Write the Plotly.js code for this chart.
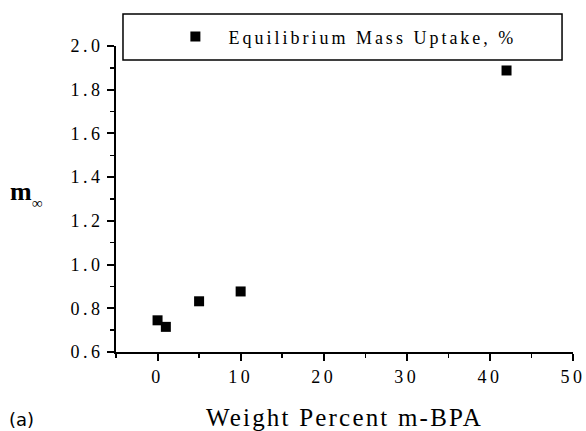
<!DOCTYPE html>
<html><head><meta charset="utf-8">
<script src="https://cdn.plot.ly/plotly-3.0.1.min.js"></script>
<style>
html,body{margin:0;padding:0;background:#fff}
.xtick text, .ytick text {letter-spacing: 3.5px;}
.legendtext {letter-spacing: 3px;}
.xtitle {letter-spacing: 2.2px;}
</style>
</head><body>
<div id="chart" style="width:586px;height:431px"></div>
<script>
const weightPercent = [0, 1, 5, 10, 42];
const massUptake = [0.745, 0.715, 0.832, 0.877, 1.888];
const seriesName = "Equilibrium Mass Uptake, %";
const xTickVals = [0, 10, 20, 30, 40, 50];
const yTickVals = [0.6, 0.8, 1.0, 1.2, 1.4, 1.6, 1.8, 2.0];
const yTickText = ["0.6", "0.8", "1.0", "1.2", "1.4", "1.6", "1.8", "2.0"];

const serif = "'Liberation Serif', serif";
const trace = {
  x: weightPercent, y: massUptake, mode: "markers", type: "scatter", name: seriesName,
  marker: {symbol: "square", size: 10, color: "#000"}
};
const layout = {
  width: 586, height: 431,
  margin: {l: 116, r: 13, t: 46, b: 79},
  paper_bgcolor: "#fff", plot_bgcolor: "#fff",
  showlegend: true,
  legend: {x: 0.1015, y: 1.03, xanchor: "left", yanchor: "middle", bgcolor: "rgba(0,0,0,0)",
           borderwidth: 0, itemwidth: 56, entrywidth: 370, entrywidthmode: "pixels",
           font: {family: serif, size: 18, color: "#000"}},
  xaxis: {
    range: [-5, 50], tickvals: xTickVals, showgrid: false, zeroline: false,
    showline: true, linecolor: "#000", linewidth: 2,
    ticks: "outside", ticklen: 7, tickwidth: 2, tickcolor: "#000",
    minor: {dtick: 5, ticks: "outside", ticklen: 4, tickwidth: 1.5, tickcolor: "#000"},
    tickfont: {family: serif, size: 18, color: "#000"},
    title: {text: "Weight Percent m-BPA", font: {family: serif, size: 25, color: "#000"}, standoff: 28}
  },
  yaxis: {
    range: [0.6, 2.0], tickvals: yTickVals, ticktext: yTickText, showgrid: false, zeroline: false,
    showline: true, linecolor: "#000", linewidth: 2,
    ticks: "outside", ticklen: 7, tickwidth: 2, tickcolor: "#000",
    minor: {dtick: 0.1, ticks: "outside", ticklen: 4, tickwidth: 1.5, tickcolor: "#000"},
    tickfont: {family: serif, size: 18, color: "#000"}
  },
  shapes: [{type: "rect", xref: "paper", yref: "paper", x0: 0.0153, x1: 0.976, y0: 0.954, y1: 1.1046,
            line: {color: "#000", width: 1.5}, fillcolor: "rgba(0,0,0,0)", layer: "above"}],
  annotations: [
    {text: "<b>m</b>", xref: "paper", yref: "paper", x: -0.2079, y: 0.526, xanchor: "center", yanchor: "middle",
     showarrow: false, font: {family: serif, size: 26, color: "#000"}},
    {text: "∞", xref: "paper", yref: "paper", x: -0.1707, y: 0.487, xanchor: "center", yanchor: "middle",
     showarrow: false, font: {family: serif, size: 15, color: "#000"}},
    {text: "(a)", xref: "paper", yref: "paper", x: -0.2057, y: -0.219, xanchor: "center", yanchor: "middle",
     showarrow: false, font: {family: "'DejaVu Sans', sans-serif", size: 18, color: "#000"}}
  ]
};
Plotly.newPlot("chart", [trace], layout, {displayModeBar: false, staticPlot: true});
</script>
</body></html>
